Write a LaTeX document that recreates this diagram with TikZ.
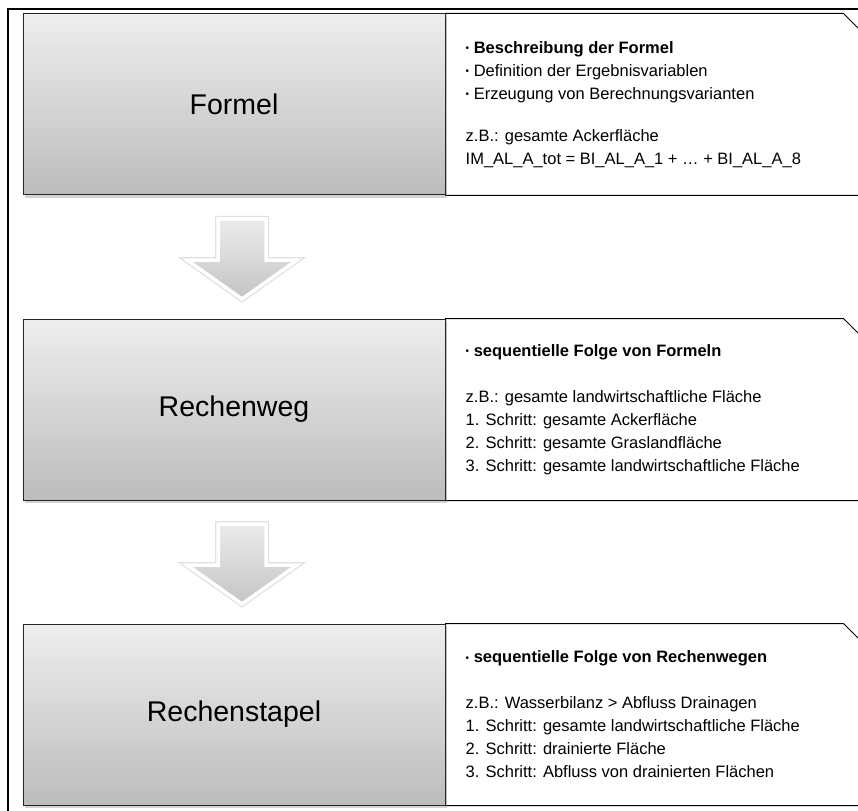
\documentclass[tikz,border=0pt]{standalone}
\usepackage{fontspec}
\setmainfont{Liberation Sans}
\usetikzlibrary{positioning, calc, shadows, backgrounds}
\definecolor{boxtop}{RGB}{238,238,238}
\definecolor{boxbottom}{RGB}{188,188,188}
\definecolor{arrowtop}{RGB}{236,236,236}
\definecolor{arrowbottom}{RGB}{196,196,196}
\newcommand{\itembullet}{\raisebox{0.2ex}{\fontsize{10}{10}\selectfont\textbullet}\ }

\begin{document}
\begin{tikzpicture}[x=1pt, y=-1pt,
  stepbox/.style={draw=black!85, line width=1pt, top color=boxtop, bottom color=boxbottom,
    minimum width=422pt, minimum height=181pt, font=\fontsize{28.5}{32}\selectfont,
    drop shadow={opacity=0.35, shadow xshift=2pt, shadow yshift=-3pt}},
  callout/.style={draw=black, line width=1pt, fill=white},
  infotext/.style={anchor=west, align=left, inner sep=0pt, font=\fontsize{16.5}{23}\selectfont},
  blockarrow/.style={draw=white, line width=3.5pt, top color=arrowtop, bottom color=arrowbottom,
    preaction={draw=black!12, line width=6pt}},
  pics/downarrow/.style={code={
    \draw[blockarrow] (-24,-38) -- (24,-38) -- (24,3) -- (55,3) -- (0,42) -- (-55,3) -- (-24,3) -- cycle;
  }},
  node distance=123pt
]
\useasboundingbox (0,0) rectangle (858,810);
\clip (0,0) rectangle (858,810);

% frame
\draw[line width=2pt] (8,9) rectangle (900,900);

% steps
\node[stepbox] (formel) at (234,104.5) {Formel};
\node[stepbox, below=of formel] (rechenweg) {Rechenweg};
\node[stepbox, below=of rechenweg] (stapel) {Rechenstapel};

% callouts behind the boxes
\begin{scope}[on background layer]
  \foreach \b in {formel, rechenweg, stapel}
    \draw[callout] (\b.north east) -- ++(398,0) -- ++(40,40) |- (\b.south east) -- cycle;
\end{scope}

\node[infotext] (formeltext) at ([xshift=20pt]formel.east) {%
  \itembullet\textbf{Beschreibung der Formel}\\
  \itembullet Definition der Ergebnisvariablen\\
  \itembullet Erzeugung von Berechnungsvarianten\\[19pt]
  z.B.: gesamte Ackerfläche\\
  IM\_AL\_A\_tot = BI\_AL\_A\_1 + … + BI\_AL\_A\_8};

\node[infotext] (rechenwegtext) at ([xshift=20pt]rechenweg.east) {%
  \itembullet\textbf{sequentielle Folge von Formeln}\\[23pt]
  z.B.: gesamte landwirtschaftliche Fläche\\
  1. Schritt: gesamte Ackerfläche\\
  2. Schritt: gesamte Graslandfläche\\
  3. Schritt: gesamte landwirtschaftliche Fläche};

\node[infotext] (stapeltext) at ([xshift=20pt]stapel.east) {%
  \itembullet\textbf{sequentielle Folge von Rechenwegen}\\[23pt]
  z.B.: Wasserbilanz > Abfluss Drainagen\\
  1. Schritt: gesamte landwirtschaftliche Fläche\\
  2. Schritt: drainierte Fläche\\
  3. Schritt: Abfluss von drainierten Flächen};

% arrows between the steps
\foreach \a/\b in {formel/rechenweg, rechenweg/stapel}
  \pic at ($(\a.south)!0.5!(\b.north)+(8,0)$) {downarrow};
\end{tikzpicture}
\end{document}
